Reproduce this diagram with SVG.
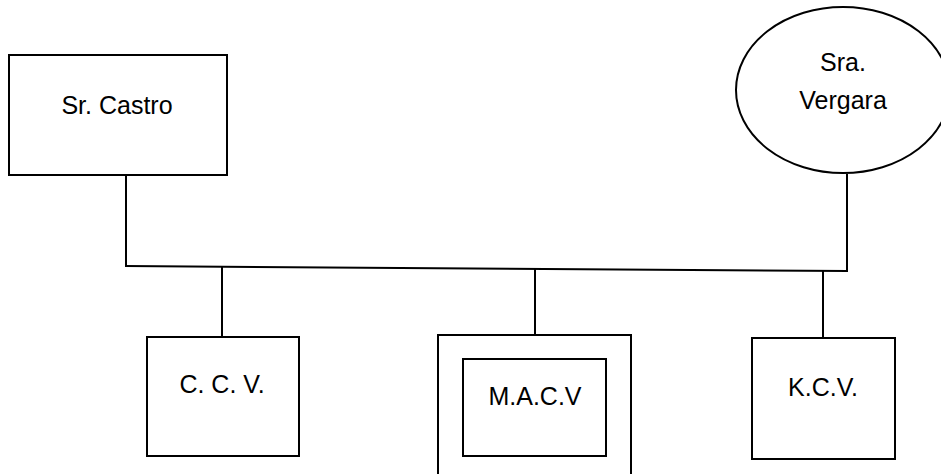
<svg xmlns="http://www.w3.org/2000/svg" width="941" height="474" viewBox="0 0 941 474">
<style>
.s{fill:none;stroke:#000;stroke-width:2}
.b{fill:#fff;stroke:#000;stroke-width:2}
text{font-family:"Liberation Sans",Arial,sans-serif;font-size:25px;fill:#000;text-anchor:middle}
</style>
<rect width="941" height="474" fill="#fff"/>
<g id="connectors">
<line class="s" x1="126" y1="175" x2="126" y2="266"/>
<line class="s" x1="125" y1="266" x2="848" y2="271"/>
<line class="s" x1="847" y1="174" x2="847" y2="271"/>
<line class="s" x1="222" y1="267" x2="222" y2="337"/>
<line class="s" x1="535" y1="268" x2="535" y2="335"/>
<line class="s" x1="823" y1="271" x2="823" y2="338"/>
</g>
<g id="castro">
<rect class="b" x="9" y="55" width="218" height="120"/>
<text x="117" y="114">Sr. Castro</text>
</g>
<g id="vergara">
<ellipse class="b" cx="843" cy="90" rx="107" ry="83"/>
<text x="843" y="71">Sra.</text>
<text x="843" y="109">Vergara</text>
</g>
<g id="ccv">
<rect class="b" x="147" y="337" width="152" height="119"/>
<text x="222" y="393">C. C. V.</text>
</g>
<g id="macv">
<rect class="b" x="438" y="335" width="193" height="150"/>
<rect class="b" x="463" y="359" width="143" height="97"/>
<text x="535" y="405">M.A.C.V</text>
</g>
<g id="kcv">
<rect class="b" x="752" y="338" width="143" height="121"/>
<text x="823" y="396">K.C.V.</text>
</g>
</svg>
